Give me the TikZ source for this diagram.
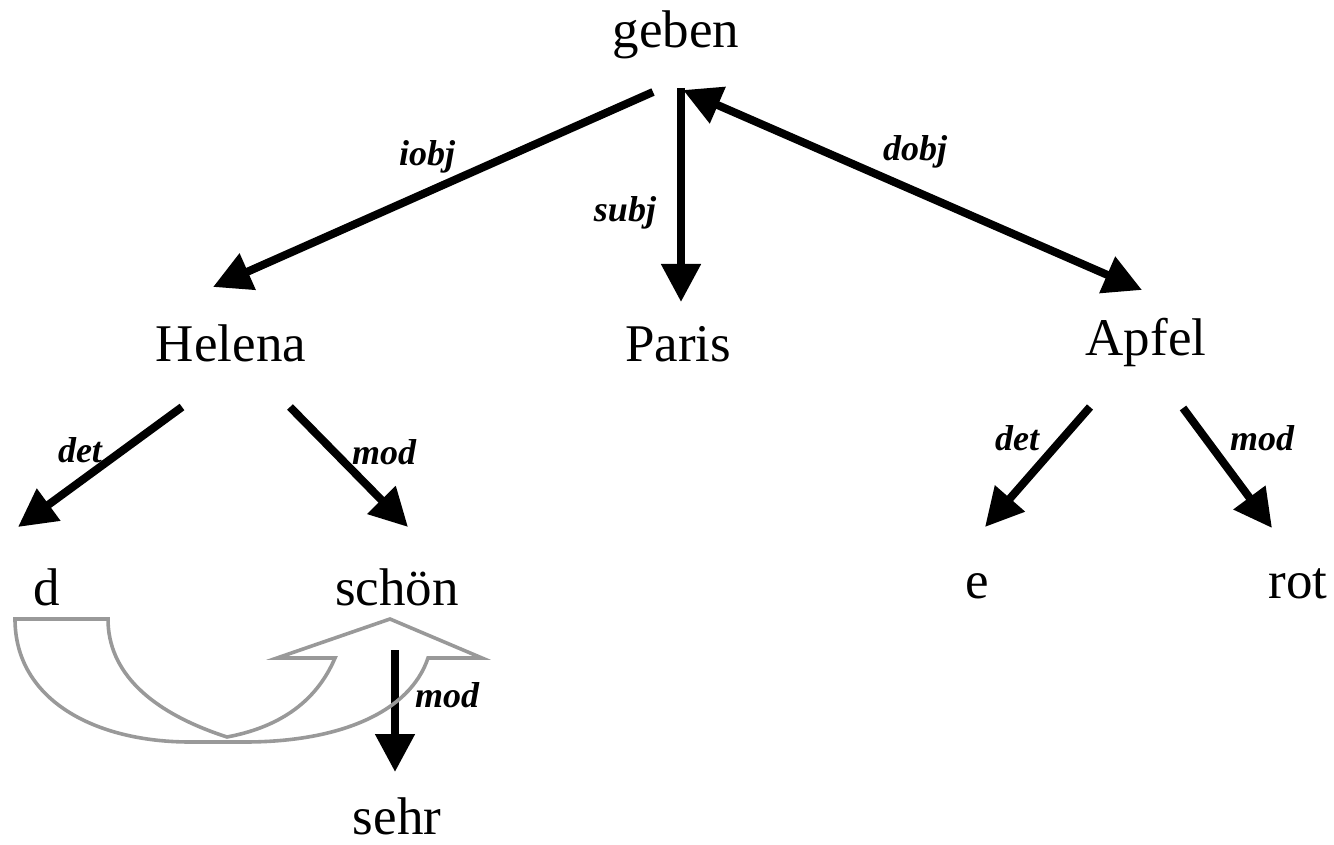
\documentclass[tikz,border=0pt]{standalone}
\usepackage{fontspec}
\setmainfont{Liberation Serif}
\usetikzlibrary{arrows.meta}
\begin{document}
\begin{tikzpicture}[x=0.5pt,y=-0.5pt,
  word/.style={anchor=base,inner sep=0pt,font=\fontsize{26.5}{30}\selectfont},
  rel/.style={inner sep=0pt,font=\fontsize{18}{20}\selectfont\bfseries\itshape},
  tip/.tip={Triangle[length=19pt,width=19pt]},
  dep/.style={line width=4pt,-tip},
  ghost/.style={draw=black!40,line width=1.8pt,line join=miter}]
\useasboundingbox (0,0) rectangle (1334,845);

% words
\node[word] (geben)  at (676,48)  {geben};
\node[word] (helena) at (231,362) {Helena};
\node[word] (paris)  at (678,362) {Paris};
\node[word] (apfel)  at (1146,356) {Apfel};
\node[word] (d)      at (47,605)  {d};
\node[word] (schoen) at (397,605) {schön};
\node[word] (e)      at (977,598) {e};
\node[word] (rot)    at (1298,598) {rot};
\node[word] (sehr)   at (397,834) {sehr};

% connector end points
\coordinate (g1) at (653,92);
\coordinate (g2) at (681,88);
\coordinate (g3) at (683,90);
\coordinate (h1) at (213,287);
\coordinate (p1) at (681,302);
\coordinate (a1) at (1142,290);
\coordinate (hl) at (182,407);
\coordinate (hr) at (290,407);
\coordinate (dt) at (18,527);
\coordinate (st) at (408,527);
\coordinate (al) at (1090,407);
\coordinate (ar) at (1183,408);
\coordinate (et) at (985,527);
\coordinate (rt) at (1272,528);
\coordinate (s1) at (395,650);
\coordinate (s2) at (395,772);

% dependency arrows
\draw[dep] (g1) -- (h1);
\node[rel] (liobj) at (427,157) {iobj};
\draw[dep] (g2) -- (p1);
\node[rel] (lsubj) at (625,213) {subj};
\draw[dep,tip-tip] (g3) -- (a1);
\node[rel] (ldobj) at (915,152) {dobj};
\draw[dep] (hl) -- (dt);
\node[rel] (ldet1) at (80,450) {det};
\draw[dep] (hr) -- (st);
\node[rel] (lmod1) at (384,452) {mod};
\draw[dep] (al) -- (et);
\node[rel] (ldet2) at (1017,438) {det};
\draw[dep] (ar) -- (rt);
\node[rel] (lmod2) at (1262,438) {mod};
\draw[dep] (s1) -- (s2);
\node[rel] (lmod3) at (447,695) {mod};

% grey curved block arrow from d up to schön
\draw[ghost]
  (15,619) .. controls (15,700) and (95,742) .. (190,742)
  -- (245,742) .. controls (340,742) and (410,712) .. (428,658)
  -- (482,658) -- (390,619) -- (277,658) -- (335,658)
  .. controls (315,705) and (275,728) .. (227,737)
  .. controls (150,712) and (108,672) .. (108,619) -- cycle;
\end{tikzpicture}
\end{document}
